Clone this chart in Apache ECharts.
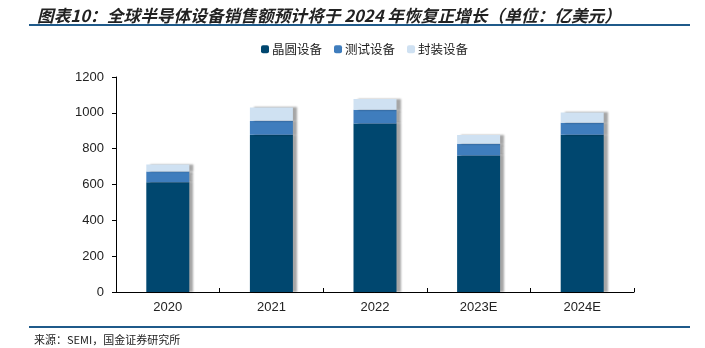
<!DOCTYPE html>
<html><head><meta charset="utf-8">
<script src="https://cdn.jsdelivr.net/npm/echarts@6/dist/echarts.min.js"></script>
<style>html,body{margin:0;padding:0;background:#fff}#c{width:705px;height:348px}</style>
</head><body><div id="c"></div>
<script>
const categories = ['2020', '2021', '2022', '2023E', '2024E'];
const wafer = [612, 878, 941, 762, 878];
const test = [60, 78, 76, 66, 66];
const packaging = [40, 74, 60, 48, 58];
const yTicks = [0, 200, 400, 600, 800, 1000, 1200];

const shadow = {shadowColor: 'rgba(0,0,0,0.35)', shadowBlur: 2, shadowOffsetX: 4, shadowOffsetY: 0};
const chart = echarts.init(document.getElementById('c'));
const fontCN = '"Noto Sans CJK SC", sans-serif';
chart.setOption({
  animation: false,
  title: {
    text: '图表10：全球半导体设备销售额预计将于 2024 年恢复正增长（单位：亿美元）',
    left: 32, top: 2,
    textStyle: {fontFamily: fontCN, fontSize: 16.7, fontWeight: 'bold', fontStyle: 'italic', color: '#222'}
  },
  graphic: [
    {type: 'line', shape: {x1: 29, y1: 25, x2: 690, y2: 25}, style: {stroke: '#1F5A8A', lineWidth: 2}},
    {type: 'line', shape: {x1: 29, y1: 327, x2: 690, y2: 327}, style: {stroke: '#1F5A8A', lineWidth: 2}},
    {type: 'text', left: 34, top: 334, style: {text: '来源：SEMI，国金证券研究所', font: '11px "Noto Sans CJK SC", sans-serif', fill: '#222'}}
  ],
  legend: {
    top: 38, left: 256, itemWidth: 8, itemHeight: 8, itemGap: 12,
    textStyle: {fontFamily: fontCN, fontSize: 12.5, color: '#222', padding: [0, 0, 0, -2]},
    data: ['晶圆设备', '测试设备', '封装设备']
  },
  grid: {left: 116, right: 71, top: 77, bottom: 56},
  xAxis: {
    type: 'category', data: categories,
    axisLine: {lineStyle: {color: '#000', width: 1}},
    axisTick: {show: true, inside: true, length: 4, lineStyle: {color: '#000'}},
    axisLabel: {fontFamily: 'Liberation Sans, Arial, sans-serif', fontSize: 13, color: '#222', margin: 9}
  },
  yAxis: {
    type: 'value', min: 0, max: 1200, interval: 200,
    axisLine: {show: true, lineStyle: {color: '#000', width: 1}},
    axisTick: {show: true, length: 4, lineStyle: {color: '#000'}},
    splitLine: {show: false},
    axisLabel: {fontFamily: 'Liberation Sans, Arial, sans-serif', fontSize: 13, color: '#222', margin: 12,
      formatter: v => yTicks.includes(v) ? String(v) : ''}
  },
  series: [
    {name: '晶圆设备', type: 'bar', stack: 't', barWidth: 43, data: wafer, itemStyle: Object.assign({color: '#00476F'}, shadow)},
    {name: '测试设备', type: 'bar', stack: 't', barWidth: 43, data: test, itemStyle: Object.assign({color: '#3F7DBD'}, shadow)},
    {name: '封装设备', type: 'bar', stack: 't', barWidth: 43, data: packaging, itemStyle: Object.assign({color: '#CFE1F2'}, shadow)}
  ]
});
</script></body></html>
